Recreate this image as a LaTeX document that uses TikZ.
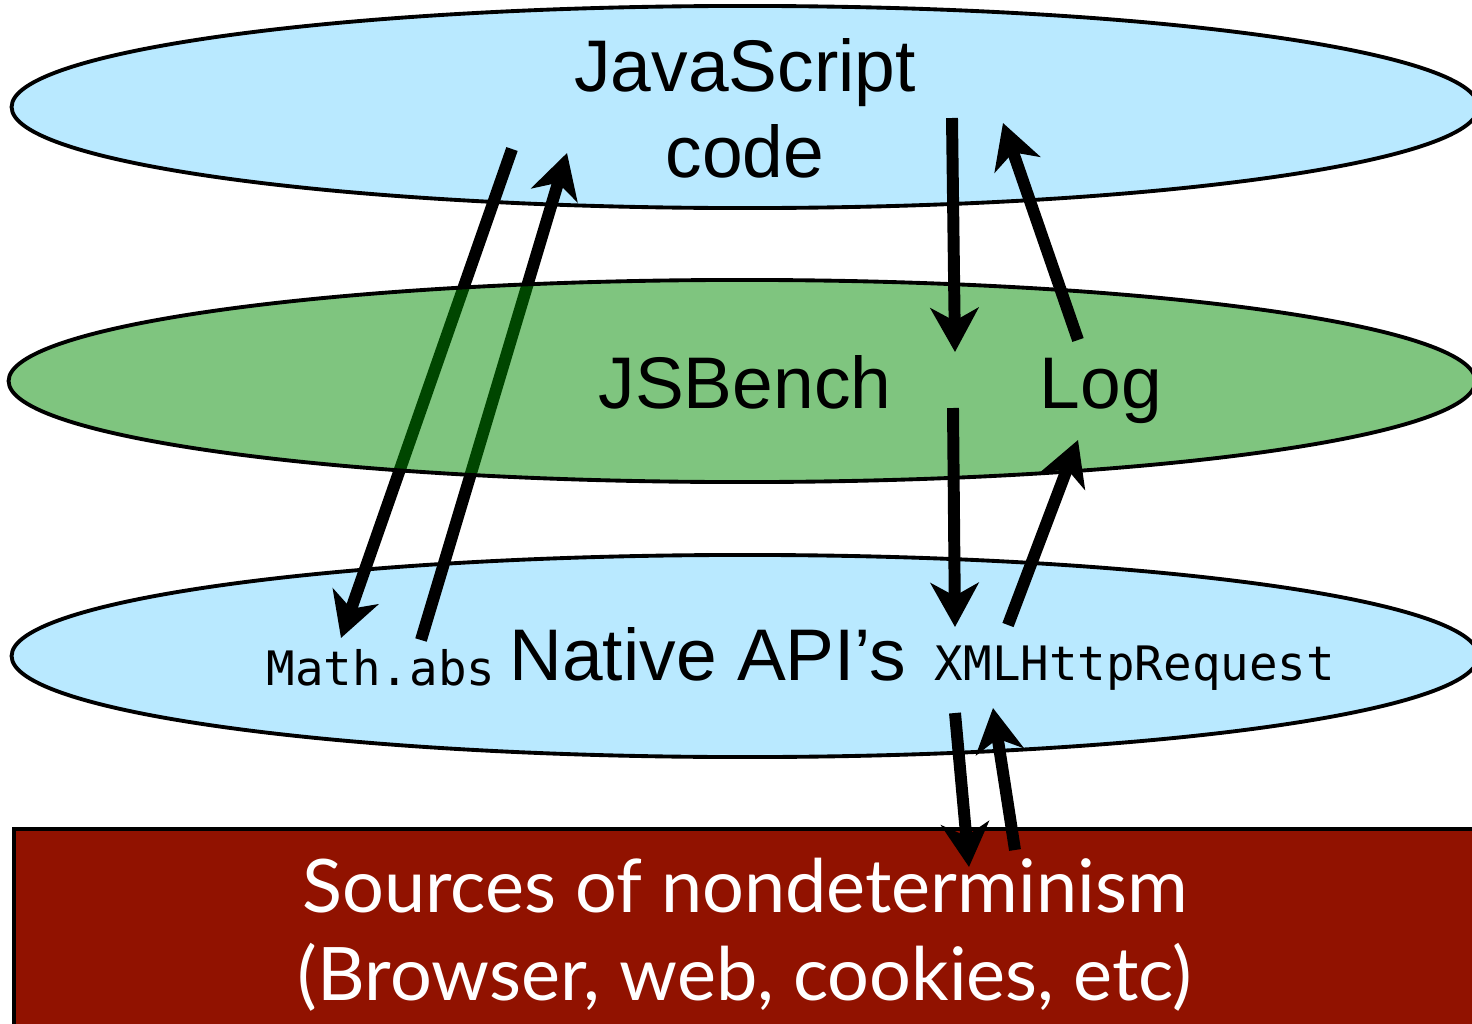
\documentclass[tikz,border=0pt]{standalone}
\usepackage{fontspec}
\setmainfont{Liberation Sans}
\setmonofont{DejaVu Sans Mono}
\newfontfamily\gillish{Lato}
\usetikzlibrary{arrows.meta,shapes.geometric}
\definecolor{layerblue}{HTML}{B9E9FF}
\definecolor{benchgreen}{RGB}{0,140,0}
\definecolor{sourcered}{HTML}{911200}

\begin{document}
\begin{tikzpicture}[x=0.01cm,y=-0.01cm,
  layer/.style={ellipse,draw,line width=1.1pt,inner sep=0pt,minimum width=14.66cm,minimum height=2.02cm},
  flow/.style={-{Stealth[length=4.4mm,width=4.8mm,inset=1.3mm]},line width=3.4pt},
  label/.style={inner sep=0pt,anchor=base,font=\fontsize{20.8}{24.3}\selectfont},
  api/.style={inner sep=0pt,anchor=base,font=\ttfamily\fontsize{13.5}{16}\selectfont}]
\useasboundingbox (0,0) rectangle (1472,1024);

% the three layers and the box underneath
\node[layer,fill=layerblue] (jscode) at (745,107) {};
\node[layer,fill=layerblue] (natives) at (745,656) {};
\node[draw,line width=1.1pt,fill=sourcered,anchor=north west,minimum width=14.8cm,minimum height=2.4cm] (sources) at (12,827) {};

% calls into Math.abs pass under the JSBench layer
\coordinate (absout) at (512,149);
\coordinate (absin) at (341,638);
\coordinate (absret) at (421,640);
\coordinate (absback) at (567,153);
\draw[flow] (absout) -- (absin);
\draw[flow] (absret) -- (absback);

\node[layer,fill=benchgreen,fill opacity=.5] (jsbench) at (742,381) {};

% recorded calls go through the log
\coordinate (xhrout) at (952,118);
\coordinate (xhrtrap) at (955,352);
\coordinate (xhrlog) at (1078,340);
\coordinate (xhrback) at (1003,123);
\coordinate (logout) at (953,408);
\coordinate (xhrin) at (955,627);
\coordinate (xhrret) at (1008,625);
\coordinate (login) at (1078,440);
\coordinate (netout) at (955,713);
\coordinate (netin) at (969,867);
\coordinate (netret) at (1015,850);
\coordinate (netback) at (993,708);
\draw[flow] (xhrout) -- (xhrtrap);
\draw[flow] (xhrlog) -- (xhrback);
\draw[flow] (logout) -- (xhrin);
\draw[flow] (xhrret) -- (login);
\draw[flow] (netout) -- (netin);
\draw[flow] (netret) -- (netback);

\node[label,align=center] (jstext) at (745,177) {JavaScript\\code};
\node[label] (benchtext) at (745,408) {JSBench};
\node[label] (logtext) at (1101,408) {Log};
\node[label] (nativetext) at (708,680) {Native API’s};
\node[api] (abstext) at (381,685) {Math.abs};
\node[api] (xhrtext) at (1135,680) {XMLHttpRequest};
\node[inner sep=0pt,anchor=base,align=center,text=white,font=\gillish\fontsize{21}{25}\selectfont] (srctext) at (745,1000)
  {Sources of nondeterminism\\(Browser, web, cookies, etc)};
\end{tikzpicture}
\end{document}
